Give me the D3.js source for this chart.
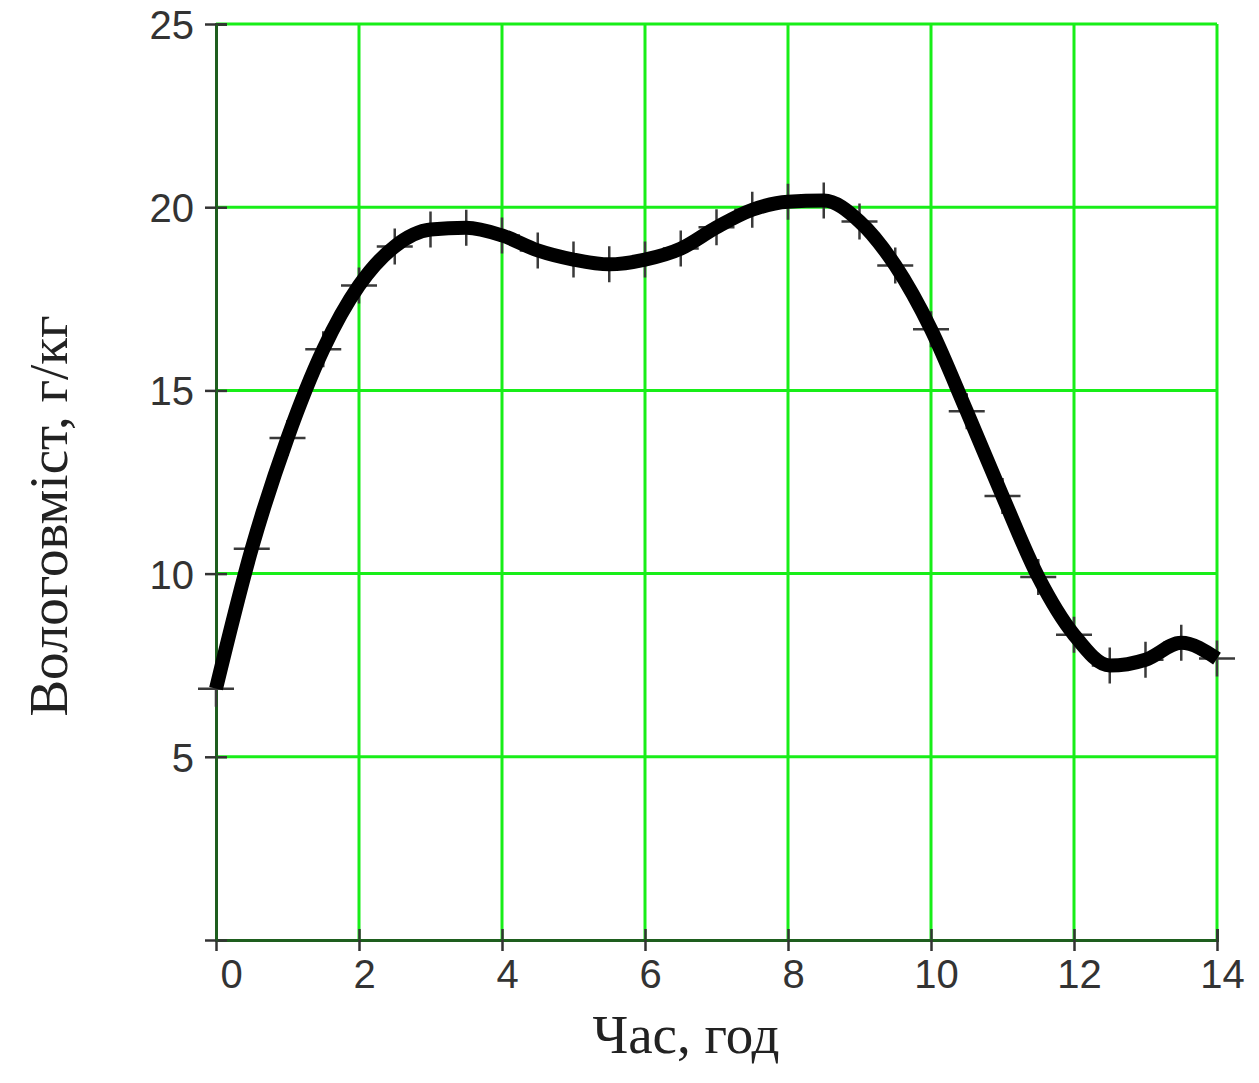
<!DOCTYPE html>
<html>
<head>
<meta charset="utf-8">
<script src="https://cdn.jsdelivr.net/npm/d3@7"></script>
<style>
  body { margin: 0; background: #fff; }
  .tick-label { font-family: "Liberation Sans", Arial, sans-serif; font-size: 40px; fill: #333; }
  .axis-title { font-family: "Liberation Serif", "Times New Roman", serif; font-size: 55px; fill: #222; }
</style>
</head>
<body>
<div id="chart"></div>
<script>
// hours (every half hour) and moisture content, g/kg
var hours = [0, 0.5, 1, 1.5, 2, 2.5, 3, 3.5, 4, 4.5, 5, 5.5, 6, 6.5, 7,
             7.5, 8, 8.5, 9, 9.5, 10, 10.5, 11, 11.5, 12, 12.5, 13, 13.5, 14];
var moisture = [6.86, 10.68, 13.7, 16.12, 17.86, 18.93, 19.39, 19.44, 19.23, 18.82, 18.57, 18.44, 18.57, 18.87, 19.45,
                19.93, 20.15, 20.18, 19.61, 18.41, 16.67, 14.43, 12.12, 9.91, 8.33, 7.49, 7.65, 8.11, 7.68];
var xTicks = [0, 2, 4, 6, 8, 10, 12, 14];
var yTicks = [0, 5, 10, 15, 20, 25];
var yTickLabels = ["", "5", "10", "15", "20", "25"];

var width = 1259, height = 1083;
var margin = { top: 24, right: 42, bottom: 143, left: 216 };

var svg = d3.select("#chart").append("svg")
    .attr("width", width)
    .attr("height", height);

var x = d3.scaleLinear().domain([0, 14]).range([margin.left, width - margin.right]);
var y = d3.scaleLinear().domain([0, 25]).range([height - margin.bottom, margin.top]);

var data = hours.map(function(h, i) { return { h: h, v: moisture[i] }; });

/*** GRID */
var grid = svg.append("g").attr("class", "grid");
grid.selectAll(".gx")
    .data(xTicks.filter(function(d) { return d > 0; }))
    .enter().append("line")
    .attr("x1", d => x(d)).attr("x2", d => x(d))
    .attr("y1", y(0)).attr("y2", y(25))
    .attr("stroke", "#18ee18").attr("stroke-width", 3);
grid.selectAll(".gy")
    .data(yTicks.filter(function(d) { return d > 0; }))
    .enter().append("line")
    .attr("x1", x(0)).attr("x2", x(14))
    .attr("y1", d => y(d)).attr("y2", d => y(d))
    .attr("stroke", "#18ee18").attr("stroke-width", 3);

/*** AXES (ticks cross the axis line) */
var axisColor = "#1e5e1e";

function styleAxis(g) {
    g.select(".domain").attr("stroke", axisColor).attr("stroke-width", 3);
    g.selectAll(".tick line").attr("stroke", "#333").attr("stroke-width", 2.5);
}

svg.append("g")
    .attr("transform", "translate(0," + y(0) + ")")
    .call(d3.axisBottom(x).tickValues(xTicks).tickSize(-11).tickFormat(""))
    .call(styleAxis);
var xAxis = svg.append("g")
    .attr("transform", "translate(0," + y(0) + ")")
    .call(d3.axisBottom(x).tickValues(xTicks).tickSize(11).tickPadding(7).tickSizeOuter(0))
    .call(styleAxis);
xAxis.selectAll(".tick text")
    .attr("class", "tick-label")
    .attr("font-size", null).attr("font-family", null)
    .attr("dx", d => d === 0 ? 15 : 5)
    .attr("dy", "0.75em");

svg.append("g")
    .attr("transform", "translate(" + x(0) + ",0)")
    .call(d3.axisLeft(y).tickValues(yTicks).tickSize(-11).tickFormat(""))
    .call(styleAxis);
var yAxis = svg.append("g")
    .attr("transform", "translate(" + x(0) + ",0)")
    .call(d3.axisLeft(y).tickValues(yTicks).tickSize(11).tickPadding(11).tickSizeOuter(0)
        .tickFormat(function(d, i) { return yTickLabels[i]; }))
    .call(styleAxis);
yAxis.selectAll(".tick text")
    .attr("class", "tick-label")
    .attr("font-size", null).attr("font-family", null)
    .attr("dy", "0.36em");

/*** MARKERS */
svg.selectAll(".marker")
    .data(data)
    .enter().append("path")
    .attr("class", "marker")
    .attr("transform", d => "translate(" + x(d.h) + "," + y(d.v) + ")")
    .attr("d", "M-18,0H18M0,-18V18")
    .attr("stroke", "#3a3a3a")
    .attr("stroke-width", 2.5)
    .attr("fill", "none");

/*** LINE */
var line = d3.line()
    .x(d => x(d.h))
    .y(d => y(d.v))
    .curve(d3.curveMonotoneX);

svg.append("path")
    .datum(data)
    .attr("d", line)
    .attr("fill", "none")
    .attr("stroke", "#000")
    .attr("stroke-width", 14)
    .attr("stroke-linejoin", "round");

/*** TITLES */
svg.append("text")
    .attr("class", "axis-title")
    .attr("x", 686)
    .attr("y", 1053)
    .attr("text-anchor", "middle")
    .text("Час, год");

svg.append("text")
    .attr("class", "axis-title")
    .attr("transform", "translate(67,516) rotate(-90)")
    .attr("text-anchor", "middle")
    .text("Вологовміст, г/кг");
</script>
</body>
</html>
